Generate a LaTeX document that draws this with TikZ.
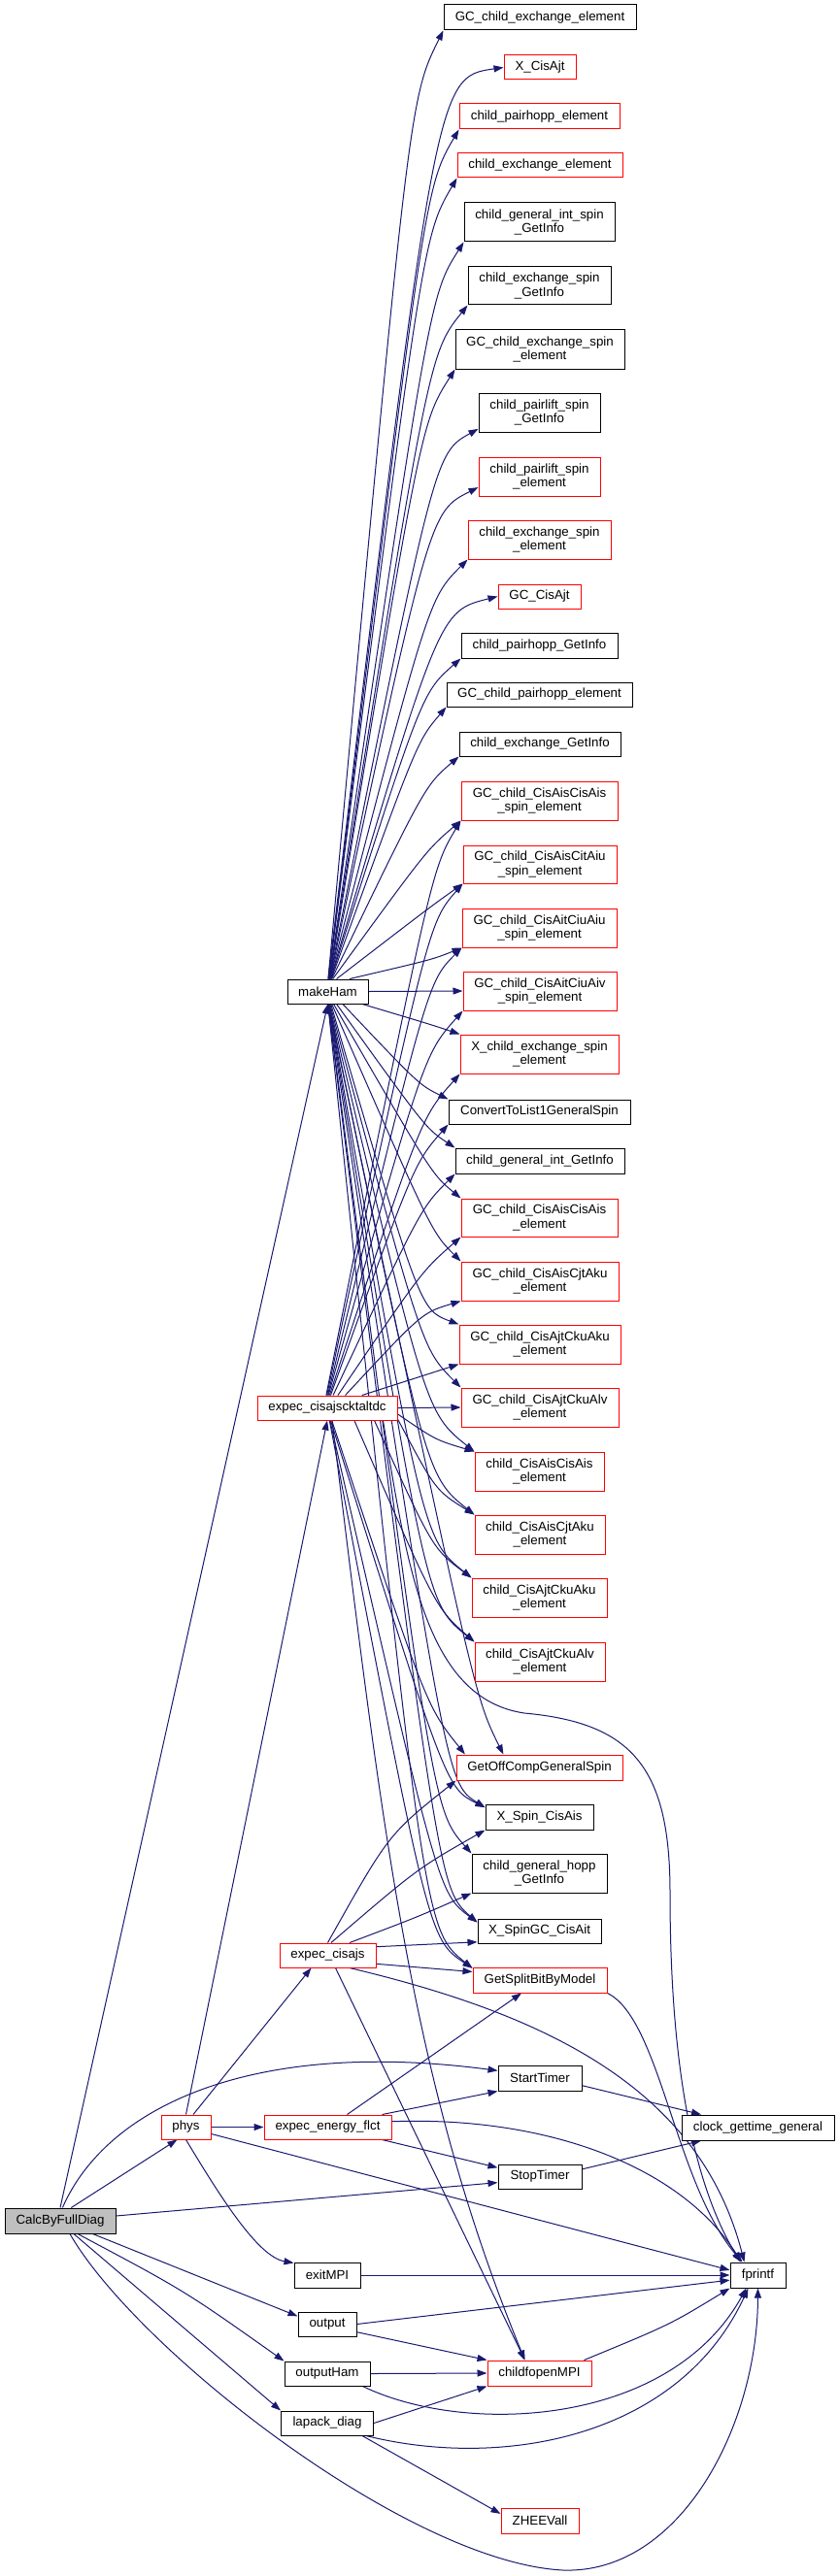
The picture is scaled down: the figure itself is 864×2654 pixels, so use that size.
\documentclass[tikz,border=0pt]{standalone}
\usepackage{fontspec}
\setmainfont{Liberation Sans}
\usetikzlibrary{arrows.meta,calc}
\definecolor{edgec}{HTML}{191970}
\definecolor{nred}{HTML}{FF0000}
\definecolor{cgray}{HTML}{BFBFBF}
\pgfdeclarelayer{bg}
\pgfsetlayers{bg,main}
\newcommand\EC[4]{\draw[e] (#1) .. controls ($(#2)+(#3,#4)$) .. (#2);}
\begin{document}
\begin{tikzpicture}[x=1pt,y=-1pt,
  box/.style={draw, rectangle, inner sep=0pt, fill=white, line width=1pt, align=center, font=\fontsize{13.3}{14.7}\selectfont},
  bk/.style={box, draw=black},
  rd/.style={box, draw=nred},
  wd/.style={minimum width=#1pt},
  ht/.style={minimum height=#1pt},
  e/.style={draw=edgec, line width=1pt, -{Triangle[length=10pt,width=7pt]}}]
\useasboundingbox (0,0) rectangle (864,2654);

% right column
\node[bk,wd=198,ht=26] (gcxe) at (556,18) {GC\_child\_exchange\_element};
\node[rd,wd=74,ht=25] (xcisajt) at (556,69.5) {X\_CisAjt};
\node[rd,wd=165,ht=26] (cpe) at (555.5,120) {child\_pairhopp\_element};
\node[rd,wd=170,ht=25] (cee) at (556,170.5) {child\_exchange\_element};
\node[bk,wd=155,ht=40] (cgisg) at (555.5,229) {child\_general\_int\_spin\\\_GetInfo};
\node[bk,wd=147,ht=39] (cesg) at (555.5,294.5) {child\_exchange\_spin\\\_GetInfo};
\node[bk,wd=174,ht=40] (gcese) at (556,360) {GC\_child\_exchange\_spin\\\_element};
\node[bk,wd=125,ht=40] (cplsg) at (555.5,425) {child\_pairlift\_spin\\\_GetInfo};
\node[rd,wd=125,ht=40] (cplse) at (555.5,491) {child\_pairlift\_spin\\\_element};
\node[rd,wd=147,ht=40] (cese) at (555.5,556) {child\_exchange\_spin\\\_element};
\node[rd,wd=85,ht=25] (gccisajt) at (555.5,614.5) {GC\_CisAjt};
\node[bk,wd=161,ht=26] (cphg) at (555.5,665) {child\_pairhopp\_GetInfo};
\node[bk,wd=191,ht=25] (gcphe) at (555.5,715.5) {GC\_child\_pairhopp\_element};
\node[bk,wd=166,ht=25] (ceg) at (556,766.5) {child\_exchange\_GetInfo};
\node[rd,wd=161,ht=40] (gc1) at (555.5,825) {GC\_child\_CisAisCisAis\\\_spin\_element};
\node[rd,wd=158,ht=39] (gc2) at (556,890.5) {GC\_child\_CisAisCitAiu\\\_spin\_element};
\node[rd,wd=159,ht=40] (gc3) at (555.5,956) {GC\_child\_CisAitCiuAiu\\\_spin\_element};
\node[rd,wd=158,ht=40] (gc4) at (556,1021) {GC\_child\_CisAitCiuAiv\\\_spin\_element};
\node[rd,wd=163,ht=40] (xcese) at (555.5,1086) {X\_child\_exchange\_spin\\\_element};
\node[bk,wd=187,ht=25] (conv) at (555.5,1145.5) {ConvertToList1GeneralSpin};
\node[bk,wd=174,ht=26] (cgig) at (556,1196) {child\_general\_int\_GetInfo};
\node[rd,wd=161,ht=39] (gc5) at (555.5,1254.5) {GC\_child\_CisAisCisAis\\\_element};
\node[rd,wd=162,ht=40] (gc6) at (556,1320) {GC\_child\_CisAisCjtAku\\\_element};
\node[rd,wd=166,ht=40] (gc7) at (556,1385) {GC\_child\_CisAjtCkuAku\\\_element};
\node[rd,wd=162,ht=40] (gc8) at (556,1450) {GC\_child\_CisAjtCkuAlv\\\_element};
\node[rd,wd=133,ht=40] (c1) at (555.5,1516) {child\_CisAisCisAis\\\_element};
\node[rd,wd=134,ht=40] (c2) at (556,1581) {child\_CisAisCjtAku\\\_element};
\node[rd,wd=139,ht=40] (c3) at (555.5,1646) {child\_CisAjtCkuAku\\\_element};
\node[rd,wd=134,ht=40] (c4) at (556,1712) {child\_CisAjtCkuAlv\\\_element};
\node[rd,wd=171,ht=26] (gocgs) at (555.5,1821) {GetOffCompGeneralSpin};
\node[bk,wd=111,ht=26] (xscis) at (555.5,1872) {X\_Spin\_CisAis};
\node[bk,wd=139,ht=40] (cghg) at (555.5,1930) {child\_general\_hopp\\\_GetInfo};
\node[bk,wd=127,ht=25] (xsgc) at (555.5,1989.5) {X\_SpinGC\_CisAit};
\node[rd,wd=138,ht=26] (gsbm) at (556,2040) {GetSplitBitByModel};
\node[bk,wd=86,ht=26] (start) at (556,2141) {StartTimer};
\node[bk,wd=86,ht=25] (stop) at (556,2242.5) {StopTimer};
\node[rd,wd=107,ht=26] (cfo) at (555.5,2445) {childfopenMPI};
\node[rd,wd=80,ht=26] (zheev) at (556,2597) {ZHEEVall};
\node[bk,wd=157,ht=26] (clock) at (780.5,2192) {clock\_gettime\_general};
\node[bk,wd=57,ht=26] (fprintf) at (780.5,2344) {fprintf};

% middle column
\node[bk,wd=83,ht=25] (mh) at (337.5,1021.5) {makeHam};
\node[rd,wd=144,ht=25] (ecs4) at (337,1450.5) {expec\_cisajscktaltdc};
\node[rd,wd=99,ht=25] (ecs) at (337.5,2014.5) {expec\_cisajs};
\node[rd,wd=131,ht=25] (eef) at (337.5,2191.5) {expec\_energy\_flct};
\node[bk,wd=68,ht=26] (exit) at (337,2344) {exitMPI};
\node[bk,wd=60,ht=25] (out) at (337,2394.5) {output};
\node[bk,wd=88,ht=25] (outh) at (337,2445.5) {outputHam};
\node[bk,wd=95,ht=25] (lap) at (337,2496.5) {lapack\_diag};
\node[rd,wd=51,ht=25] (phys) at (191.5,2191.5) {phys};
\node[bk,wd=114,ht=26,fill=cgray] (calc) at (62,2288) {CalcByFullDiag};

\begin{pgfonlayer}{bg}
% CalcByFullDiag
\draw[e] (calc.north) -- (mh.south);
\draw[e] (calc.80) .. controls (110,2170) and (260,2100) .. (start.170);
\draw[e] (calc.50) -- (phys.235);
\draw[e] (calc.5) -- (stop.188);
\draw[e] ([xshift=-24pt]calc.south east) -- (out.165);
\draw[e] ([xshift=18pt]calc.south) .. controls (190,2360) .. (outh.north west);
\draw[e] ([xshift=14pt]calc.south) -- (lap.north west);
\draw[e] ([xshift=10pt]calc.south) .. controls (140,2420) and (420,2640) .. (580,2648) .. controls (700,2652) and (780,2500) .. (fprintf.south);
% phys
\draw[e] (phys.north) -- (ecs4.south);
\draw[e] (phys.60) -- ([xshift=-17pt]ecs.south);
\draw[e] (phys.east) -- (eef.west);
\draw[e] (phys.south) .. controls (225,2260) and (265,2325) .. (exit.160);
\draw[e] (phys.345) -- (fprintf.170);
% expec_energy_flct
\draw[e] ([xshift=20pt]eef.north) -- ([xshift=-19pt]gsbm.south);
\draw[e] ([xshift=-10pt]eef.north east) -- (start.south west);
\draw[e] (eef.5) .. controls (560,2180) and (700,2230) .. ([xshift=-17pt]fprintf.north);
\draw[e] ([xshift=-10pt]eef.south east) -- (stop.168);
% expec_cisajs
\draw[e] (ecs.north) .. controls (400,1890) .. (gocgs.south west);
\draw[e] (ecs.75) .. controls (430,1925) .. (xscis.south west);
\draw[e] (ecs.30) .. controls (430,1975) .. (cghg.south west);
\draw[e] (ecs.10) -- (xsgc.190);
\draw[e] (ecs.350) -- (gsbm.173);
\draw[e] (ecs.330) .. controls (560,2075) and (720,2150) .. ([xshift=-14pt]fprintf.north);
\draw[e] ([xshift=8pt]ecs.south) -- ([xshift=-15pt]cfo.north);
% others
\draw[e] (gsbm.south east) .. controls (680,2080) and (695,2250) .. ([xshift=-16pt]fprintf.north);
\draw[e] (start.350) -- (clock.167);
\draw[e] (stop.10) -- (clock.193);
\draw[e] ([xshift=-8pt]cfo.north east) .. controls (690,2395) .. (fprintf.south west);
\draw[e] (exit.east) -- (fprintf.west);
\draw[e] (out.east) -- (fprintf.190);
\draw[e] (out.345) -- (cfo.north west);
\draw[e] (outh.east) -- (cfo.west);
\draw[e] ([xshift=-8pt]outh.south east) .. controls (480,2510) and (690,2500) .. ([xshift=-12pt]fprintf.south);
\draw[e] (lap.east) -- (cfo.south west);
\draw[e] ([xshift=-8pt]lap.south east) .. controls (520,2545) and (700,2510) .. ([xshift=-10pt]fprintf.south);
\draw[e] ([xshift=-12pt]lap.south east) -- (zheev.170);
% expec_cisajscktaltdc long ones
\draw[e] ([xshift=-15pt]ecs4.south east) .. controls (420,1620) and (440,1750) .. (540,1765) .. controls (650,1775) and (690,1820) .. (690,1950) .. controls (690,2150) and (720,2260) .. ([xshift=-18pt]fprintf.north);
\draw[e] ([xshift=5pt]ecs4.south) .. controls (395,1900) and (425,2150) .. ([xshift=-15pt]cfo.north);
% makeHam fan
\EC{mh.88}{gcxe.south west}{-35}{70}
\EC{mh.88}{xcisajt.west}{-70}{10}
\EC{mh.86}{cpe.south west}{-35}{60}
\EC{mh.86}{cee.south west}{-35}{60}
\EC{mh.84}{cgisg.south west}{-35}{55}
\EC{mh.84}{cesg.south west}{-40}{50}
\EC{mh.82}{gcese.south west}{-35}{55}
\EC{mh.82}{cplsg.195}{-45}{25}
\EC{mh.80}{cplse.190}{-50}{25}
\EC{mh.80}{cese.south west}{-40}{40}
\EC{mh.78}{gccisajt.west}{-60}{15}
\EC{mh.76}{cphg.south west}{-40}{35}
\EC{mh.74}{gcphe.south west}{-30}{35}
\EC{mh.72}{ceg.south west}{-35}{30}
\EC{mh.68}{gc1.south west}{-35}{30}
\EC{mh.55}{gc2.south west}{-35}{25}
\EC{mh.30}{gc3.south west}{-30}{12}
\draw[e] (mh.east) -- (gc4.west);
\EC{mh.340}{xcese.north west}{-30}{-10}
\EC{mh.320}{conv.north west}{-30}{-15}
\EC{mh.305}{cgig.north west}{-30}{-20}
\EC{mh.295}{gc5.north west}{-30}{-25}
\EC{mh.288}{gc6.north west}{-30}{-30}
\EC{mh.284}{gc7.north west}{-40}{-15}
\EC{mh.280}{gc8.north west}{-40}{-40}
\EC{mh.277}{c1.north west}{-50}{-40}
\EC{mh.276}{c2.north west}{-50}{-40}
\EC{mh.275}{c3.north west}{-50}{-40}
\EC{mh.274}{c4.north west}{-50}{-40}
\EC{mh.273}{gocgs.160}{-30}{-60}
\EC{mh.272}{xscis.170}{-40}{-25}
\EC{mh.272}{cghg.north west}{-40}{-45}
\EC{mh.271}{xsgc.172}{-40}{-35}
\EC{mh.271}{gsbm.170}{-50}{-40}
% expec_cisajscktaltdc fan
\EC{ecs4.95}{gc1.south west}{-30}{50}
\EC{ecs4.92}{gc2.south west}{-35}{40}
\EC{ecs4.88}{gc3.south west}{-35}{35}
\EC{ecs4.85}{gc4.south west}{-40}{45}
\EC{ecs4.80}{xcese.south west}{-40}{45}
\EC{ecs4.75}{conv.south west}{-35}{40}
\EC{ecs4.65}{cgig.south west}{-35}{35}
\EC{ecs4.50}{gc5.south west}{-40}{35}
\EC{ecs4.35}{gc6.south west}{-40}{12}
\draw[e] (ecs4.20) -- (gc7.south west);
\draw[e] (ecs4.east) -- (gc8.west);
\EC{ecs4.355}{c1.north west}{-40}{-12}
\EC{ecs4.351}{c2.north west}{-40}{-25}
\EC{ecs4.345}{c3.north west}{-40}{-30}
\EC{ecs4.335}{c4.north west}{-40}{-35}
\EC{ecs4.290}{gocgs.170}{-40}{-50}
\EC{ecs4.285}{xscis.170}{-40}{-20}
\EC{ecs4.282}{xsgc.172}{-40}{-30}
\EC{ecs4.280}{gsbm.170}{-45}{-30}
\end{pgfonlayer}
\end{tikzpicture}
\end{document}
